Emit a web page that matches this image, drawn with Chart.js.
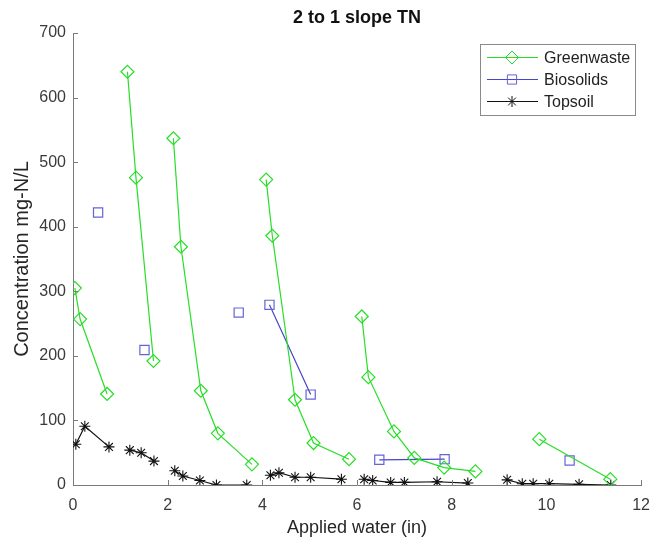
<!DOCTYPE html>
<html>
<head>
<meta charset="utf-8">
<script src="https://cdn.jsdelivr.net/npm/chart.js@4.4.0/dist/chart.umd.min.js"></script>
<style>
  html, body { margin: 0; padding: 0; background: #fff; }
</style>
</head>
<body>
<canvas id="c" width="661" height="545"></canvas>
<script>
// data; null breaks a line into separate runs
const gwX = [0.04, 0.15, 0.72, null, 1.15, 1.33, 1.70, null, 2.12, 2.28, 2.70, 3.06, 3.78, null,
             4.08, 4.21, 4.69, 5.08, 5.83, null, 6.10, 6.24, 6.78, 7.21, 7.84, 8.50, null, 9.85, 11.35];
const gwY = [305, 257, 141, null, 640, 476, 192, null, 537, 369, 146, 80, 32, null,
             473, 386, 132, 65, 40, null, 261, 167, 83, 42, 27, 21, null, 71, 9];

const bioX = [0.53, null, 1.51, null, 3.50, null, 4.15, 5.02, null, 6.47, 7.85, null, 10.49];
const bioY = [422, null, 209, null, 267, null, 279, 140, null, 39, 40, null, 38];

const topX = [0.06, 0.25, 0.76, null, 1.20, 1.44, 1.71, null, 2.15, 2.32, 2.68, 3.03, 3.67, null,
              4.17, 4.35, 4.69, 5.02, 5.67, null, 6.15, 6.33, 6.71, 7.00, 7.69, 8.34, null,
              9.17, 9.49, 9.72, 10.06, 10.69, 11.36];
const topY = [63, 91, 59, null, 54, 50, 37, null, 22, 14, 7, 0, 0, null,
              15, 19, 12, 12, 9, null, 9, 7, 4, 4, 5, 3, null,
              8, 2, 2, 2, 1, 0];

const xTicks = [0, 2, 4, 6, 8, 10, 12];
const yTicks = [0, 100, 200, 300, 400, 500, 600, 700];

function pts(xs, ys) {
  return xs.map((x, i) => ({ x: x, y: ys[i] }));
}

const FONT = 'Liberation Sans, Arial, sans-serif';
const AXIS = '#7a7a7a';

// MATLAB-style inward ticks
const innerTicks = {
  id: 'innerTicks',
  afterDraw(chart) {
    const c = chart.ctx, xs = chart.scales.x, ys = chart.scales.y;
    const a = chart.chartArea;
    c.save();
    c.strokeStyle = AXIS;
    c.lineWidth = 1;
    c.beginPath();
    xTicks.forEach(v => {
      const px = Math.round(xs.getPixelForValue(v)) + 0.5;
      c.moveTo(px, a.bottom); c.lineTo(px, a.bottom - 5);
    });
    yTicks.forEach(v => {
      const py = Math.round(ys.getPixelForValue(v)) + 0.5;
      c.moveTo(a.left, py); c.lineTo(a.left + 5, py);
    });
    c.stroke();
    c.restore();
  }
};

// legend box in the top-right corner of the axes
const boxLegend = {
  id: 'boxLegend',
  afterDraw(chart) {
    const c = chart.ctx;
    const x0 = 480, y0 = 44, w = 155, h = 71;
    c.save();
    c.fillStyle = '#fff';
    c.fillRect(x0, y0, w, h);
    c.strokeStyle = '#8a8a8a';
    c.lineWidth = 1;
    c.strokeRect(x0 + 0.5, y0 + 0.5, w, h);
    c.font = '16px ' + FONT;
    c.textBaseline = 'middle';
    chart.data.datasets.forEach((ds, i) => {
      const y = 57.5 + i * 22;
      c.strokeStyle = ds.borderColor;
      c.lineWidth = 1;
      c.beginPath();
      c.moveTo(487, y); c.lineTo(538, y);
      c.stroke();
      c.strokeStyle = ds.pointBorderColor;
      c.fillStyle = 'rgba(255,255,255,0)';
      Chart.helpers.drawPoint(c, { pointStyle: ds.pointStyle, radius: ds.pointRadius, borderWidth: 1 }, 512, y);
      c.fillStyle = '#222';
      c.fillText(ds.label, 544, y + 1);
    });
    c.restore();
  }
};

new Chart(document.getElementById('c'), {
  type: 'scatter',
  data: {
    datasets: [
      {
        label: 'Greenwaste',
        data: pts(gwX, gwY),
        showLine: true,
        spanGaps: false,
        borderColor: 'rgb(40,222,40)',
        pointBorderColor: 'rgb(40,222,40)',
        pointBackgroundColor: 'rgba(0,0,0,0)',
        borderWidth: 1.2,
        pointStyle: 'rectRot',
        pointRadius: 6.5,
        pointBorderWidth: 1.2
      },
      {
        label: 'Biosolids',
        data: pts(bioX, bioY),
        showLine: true,
        spanGaps: false,
        borderColor: 'rgb(70,70,200)',
        pointBorderColor: 'rgb(100,100,215)',
        pointBackgroundColor: 'rgba(0,0,0,0)',
        borderWidth: 1.2,
        pointStyle: 'rect',
        pointRadius: 6.5,
        pointBorderWidth: 1.2
      },
      {
        label: 'Topsoil',
        data: pts(topX, topY),
        showLine: true,
        spanGaps: false,
        borderColor: '#111',
        pointBorderColor: '#111',
        pointBackgroundColor: 'rgba(0,0,0,0)',
        borderWidth: 1.2,
        pointStyle: 'star',
        pointRadius: 5.5,
        pointBorderWidth: 1.1
      }
    ]
  },
  options: {
    responsive: false,
    animation: false,
    layout: { padding: { left: 0, right: 12, top: 0, bottom: 0 } },
    plugins: {
      legend: { display: false },
      tooltip: { enabled: false },
      title: {
        display: true,
        fullSize: false,
        text: '2 to 1 slope TN',
        color: '#111',
        font: { family: FONT, size: 18, weight: 'bold' },
        padding: { top: 7, bottom: 4.4 }
      }
    },
    scales: {
      x: {
        type: 'linear',
        min: 0, max: 12,
        afterBuildTicks: s => { s.ticks = xTicks.map(v => ({ value: v })); },
        afterFit: s => { s.height = 60; },
        grid: { display: true, color: 'rgba(0,0,0,0)', drawTicks: false },
        border: { display: true, color: AXIS, width: 1 },
        ticks: { color: '#3a3a3a', padding: 11, font: { family: FONT, size: 16 } },
        title: {
          display: true, text: 'Applied water (in)', color: '#262626',
          font: { family: FONT, size: 18 }, padding: { top: 0, bottom: 6 }
        }
      },
      y: {
        type: 'linear',
        min: 0, max: 700,
        afterBuildTicks: s => { s.ticks = yTicks.map(v => ({ value: v })); },
        afterFit: s => { s.width = 73; },
        grid: { display: true, color: 'rgba(0,0,0,0)', drawTicks: false },
        border: { display: true, color: AXIS, width: 1 },
        ticks: { color: '#3a3a3a', padding: 7, font: { family: FONT, size: 16 } },
        title: {
          display: true, text: 'Concentration mg-N/L', color: '#262626',
          font: { family: FONT, size: 20 }, padding: { top: 10, bottom: 0 }
        }
      }
    }
  },
  plugins: [innerTicks, boxLegend]
});
</script>
</body>
</html>
